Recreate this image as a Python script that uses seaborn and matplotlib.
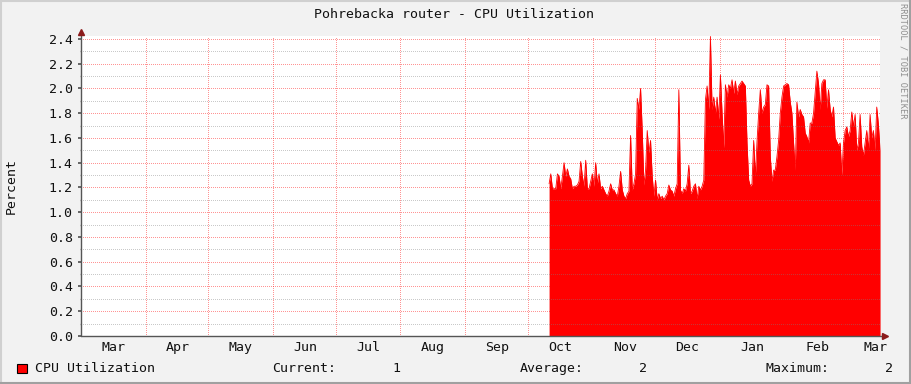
import numpy as np
import pandas as pd
import matplotlib
matplotlib.use("Agg")
import matplotlib.pyplot as plt
import matplotlib.dates as mdates
import seaborn as sns
from matplotlib.lines import Line2D
from matplotlib.patches import Rectangle

# ---------------- data ----------------
cpu_values = [
    1.23, 1.31, 1.19, 1.19, 1.19, 1.31, 1.29, 1.19, 1.29, 1.40,
    1.29, 1.35, 1.29, 1.27, 1.19, 1.21, 1.21, 1.22, 1.25, 1.41,
    1.29, 1.21, 1.42, 1.19, 1.19, 1.25, 1.31, 1.21, 1.40, 1.23,
    1.31, 1.19, 1.21, 1.18, 1.15, 1.13, 1.17, 1.23, 1.18, 1.18,
    1.15, 1.13, 1.21, 1.33, 1.18, 1.13, 1.11, 1.15, 1.17, 1.62,
    1.18, 1.23, 1.31, 1.92, 1.83, 2.00, 1.66, 1.22, 1.34, 1.66,
    1.48, 1.58, 1.29, 1.13, 1.26, 1.10, 1.15, 1.11, 1.13, 1.10,
    1.13, 1.15, 1.22, 1.18, 1.17, 1.13, 1.19, 1.23, 1.99, 1.18,
    1.15, 1.19, 1.17, 1.23, 1.38, 1.15, 1.17, 1.21, 1.23, 1.11,
    1.21, 1.18, 1.21, 1.26, 1.91, 2.02, 1.83, 2.42, 1.83, 1.93,
    1.80, 1.93, 1.75, 2.11, 1.80, 1.52, 2.03, 1.93, 2.03, 2.00,
    2.07, 1.96, 2.06, 1.95, 2.02, 2.04, 2.06, 2.04, 2.02, 1.56,
    1.26, 1.21, 1.23, 1.58, 1.29, 1.57, 1.80, 1.99, 1.80, 1.85,
    1.87, 2.03, 2.02, 1.45, 1.25, 1.34, 1.34, 1.45, 1.58, 1.80,
    1.93, 2.02, 2.03, 2.04, 2.03, 1.89, 1.80, 1.56, 1.34, 1.89,
    1.77, 1.83, 1.79, 1.77, 1.64, 1.61, 1.56, 1.72, 1.72, 1.80,
    1.97, 2.14, 2.04, 1.83, 2.04, 2.07, 2.07, 1.84, 1.99, 1.83,
    1.77, 1.85, 1.60, 1.57, 1.54, 1.56, 1.30, 1.56, 1.66, 1.69,
    1.61, 1.66, 1.81, 1.69, 1.79, 1.50, 1.56, 1.79, 1.53, 1.46,
    1.56, 1.66, 1.50, 1.79, 1.60, 1.66, 1.50, 1.85, 1.71, 1.50,
]
series_start = "2009-10-11 04:30"
sample_minutes = 1147

month_starts = ["2009-03-01", "2009-04-01", "2009-05-01", "2009-06-01",
                "2009-07-01", "2009-08-01", "2009-09-01", "2009-10-01",
                "2009-11-01", "2009-12-01", "2010-01-01", "2010-02-01",
                "2010-03-01"]
month_labels = ["Mar", "Apr", "May", "Jun", "Jul", "Aug", "Sep", "Oct",
                "Nov", "Dec", "Jan", "Feb", "Mar"]
y_major = [0.0, 0.2, 0.4, 0.6, 0.8, 1.0, 1.2, 1.4, 1.6, 1.8, 2.0, 2.2, 2.4]
y_minor = [0.1, 0.3, 0.5, 0.7, 0.9, 1.1, 1.3, 1.5, 1.7, 1.9, 2.1, 2.3]

title = "Pohrebacka router - CPU Utilization"
y_label = "Percent"
series_name = "CPU Utilization"
stat_names = ["Current:", "Average:", "Maximum:"]
stat_values = ["1", "2", "2"]
watermark = "RRDTOOL / TOBI OETIKER"

# ---------------- styling ----------------
sns.set_theme(style="white")
plt.rcParams["font.family"] = ["DejaVu Sans Mono", "DejaVu Sans"]

BG = "#F2F2F2"
RED = "#FF0000"
FS = 9.5

W, H = 911, 384
fig = plt.figure(figsize=(W / 100, H / 100), dpi=100, facecolor=BG)
ax = fig.add_axes([81 / W, 48 / H, 799 / W, 300 / H])
ax.set_facecolor("white")

df = pd.DataFrame({
    "time": pd.date_range(series_start, periods=len(cpu_values),
                          freq=f"{sample_minutes}min"),
    "cpu": cpu_values,
})

ax.fill_between(df["time"], 0, df["cpu"], color=RED, lw=0, zorder=1)
sns.lineplot(data=df, x="time", y="cpu", color=RED, lw=0.6, ax=ax, zorder=2)

x_left = pd.Timestamp("2009-03-01 22:00")
x_right = pd.Timestamp("2010-03-18 16:00")
ax.set_xlim(x_left, x_right)
ax.set_ylim(0, 2.424)

# ticks
ms = pd.to_datetime(month_starts)
ax.set_xticks(ms)
ax.set_xticklabels([""] * len(ms))
label_pos = ms + pd.Timedelta(hours=372)
ax.set_xticks(label_pos, minor=True)
ax.set_xticklabels(month_labels, minor=True, fontsize=FS, color="#111111")
ax.tick_params(axis="x", which="major", length=2, color="#777777", direction="out")
ax.tick_params(axis="x", which="minor", length=0, pad=3.5)

ax.set_yticks(y_major)
ax.set_yticklabels([f"{v:.1f}" for v in y_major], fontsize=FS, color="#111111")
ax.set_yticks(y_minor, minor=True)
ax.tick_params(axis="y", which="major", length=2, color="#555555", pad=4,
               direction="out", left=True)
ax.tick_params(axis="y", which="minor", length=1, color="#999999",
               direction="out", left=True)

ax.set_xlabel("")
ax.set_ylabel("")

# grids drawn over the data (rrdtool style), crisp 1px dots
dot = (0, (1, 2))
ax.set_axisbelow(False)
for v in y_minor:
    ax.axhline(v, color="#7F7F7F", alpha=0.42, lw=0.72, ls=dot, zorder=3,
               antialiased=False)
for v in y_major:
    ax.axhline(v, color="#FF0000", alpha=0.42, lw=0.72, ls=dot, zorder=3,
               antialiased=False)
for d in ms:
    ax.axvline(d, color="#FF0000", alpha=0.42, lw=0.72, ls=dot, zorder=3,
               antialiased=False)

for s in ax.spines.values():
    s.set_visible(False)

# axis lines with arrows
ax.add_line(Line2D([0, 0], [0, 1.012], transform=ax.transAxes, color="#555555",
                   lw=1.0, clip_on=False, zorder=5))
ax.add_line(Line2D([0, 1.005], [0, 0], transform=ax.transAxes, color="#555555",
                   lw=1.0, clip_on=False, zorder=5))
ax.plot([0], [1.015], marker="^", ms=4, color="#8B1A1A", transform=ax.transAxes,
        clip_on=False, zorder=6)
ax.plot([1.006], [0], marker=">", ms=4, color="#8B1A1A", transform=ax.transAxes,
        clip_on=False, zorder=6)

# texts
fig.text(454.5 / W, 1 - 14 / H, title, ha="center", va="center",
         fontsize=FS, color="#111111")
fig.text(11 / W, 1 - 186 / H, y_label, ha="center", va="center",
         rotation=90, fontsize=FS, color="#111111")
fig.text(903 / W, 1 - 61 / H, watermark, ha="center", va="center",
         rotation=270, fontsize=6.2, color="#8F8F8F")

# legend row
ly = 1 - 368.5 / H
fig.patches.append(Rectangle((17 / W, 1 - 373 / H), 10 / W, 9 / H,
                             transform=fig.transFigure, facecolor=RED,
                             edgecolor="black", lw=0.8))
fig.text(35 / W, ly, series_name, ha="left", va="center", fontsize=FS,
         color="#111111")
stat_name_x = [272.5, 520, 765.5]
stat_value_right = [400, 647, 893]
for name, val, nx, vx in zip(stat_names, stat_values, stat_name_x, stat_value_right):
    fig.text(nx / W, ly, name, ha="left", va="center", fontsize=FS, color="#111111")
    fig.text(vx / W, ly, val, ha="right", va="center", fontsize=FS, color="#111111")

# frame border (3D look)
def frame_line(x0, y0, x1, y1, color, lw):
    fig.add_artist(Line2D([x0 / W, x1 / W], [1 - y0 / H, 1 - y1 / H],
                          transform=fig.transFigure, color=color, lw=lw))

frame_line(0, 1, W, 1, "#D0D0D0", 1.5)
frame_line(1, 0, 1, H, "#D0D0D0", 1.5)
frame_line(0, H - 1, W, H - 1, "#A0A0A0", 1.5)
frame_line(W - 1, 0, W - 1, H, "#A0A0A0", 1.5)

fig.savefig("out.png", dpi=100, facecolor=BG)
